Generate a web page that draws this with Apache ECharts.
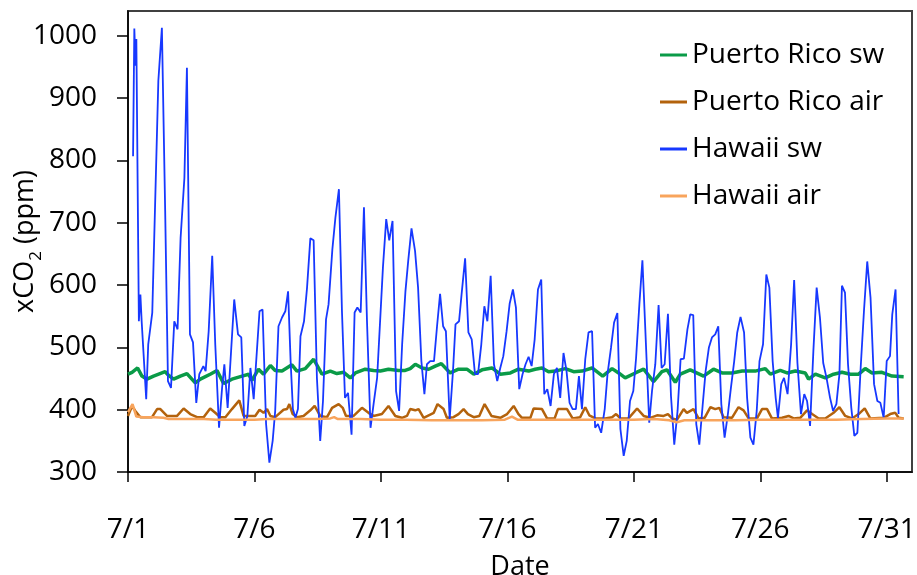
<!DOCTYPE html>
<html>
<head>
<meta charset="utf-8">
<script src="https://cdn.jsdelivr.net/npm/echarts@6/dist/echarts.min.js"></script>
<style>
html,body{margin:0;padding:0;background:#fff;}
#chart{width:917px;height:575px;}
</style>
</head>
<body>
<div id="chart"></div>
<script>
// x values are days since 7/1 00:00
const seriesNames = ['Puerto Rico sw', 'Puerto Rico air', 'Hawaii sw', 'Hawaii air'];
const xTickDays = [0, 5, 10, 15, 20, 25, 30];
const xTickLabels = ['7/1', '7/6', '7/11', '7/16', '7/21', '7/26', '7/31'];
const yTicks = [300, 400, 500, 600, 700, 800, 900, 1000];

const prSwDays = [0.00,0.16,0.38,0.55,0.75,1.01,1.47,1.61,1.80,2.07,2.33,2.66,2.86,3.25,3.52,3.78,4.11,4.51,4.77,4.90,5.16,5.36,5.63,5.82,6.09,6.48,6.68,7.01,7.34,7.67,8.00,8.26,8.53,8.79,8.99,9.38,9.71,9.98,10.30,10.70,10.96,11.16,11.36,11.63,11.89,12.15,12.39,12.74,13.07,13.40,13.67,14.00,14.39,14.72,15.12,15.44,15.84,16.10,16.37,16.63,16.90,17.29,17.62,17.95,18.35,18.77,19.14,19.40,19.66,20.06,20.39,20.78,21.11,21.31,21.64,21.84,22.23,22.76,23.15,23.49,23.88,24.28,24.80,25.20,25.40,25.79,26.06,26.39,26.78,26.91,27.18,27.57,27.90,28.23,28.56,28.89,29.15,29.42,29.81,30.21,30.67];
const prSwVals = [457,460,467,454,449,454,461,455,449,454,458,443,449,457,463,442,449,454,457,447,465,457,471,463,462,472,462,466,481,457,462,458,460,451,459,465,463,462,465,463,463,466,473,467,465,470,474,459,465,465,457,464,467,457,459,465,462,465,467,461,462,466,461,462,467,454,466,459,451,459,465,445,461,464,444,457,464,454,465,459,459,462,462,466,457,463,459,462,459,449,457,451,457,460,457,457,466,459,460,454,453];

const prAirDays = [0.00,0.16,0.29,0.49,0.95,1.15,1.28,1.54,1.94,2.20,2.46,2.73,2.99,3.25,3.45,3.65,3.85,4.11,4.40,4.57,5.03,5.20,5.36,5.50,5.63,5.82,6.15,6.29,6.38,6.51,6.68,6.94,7.21,7.38,7.60,7.87,8.07,8.33,8.49,8.62,8.92,9.25,9.51,9.71,10.04,10.30,10.37,10.57,10.83,11.03,11.16,11.36,11.49,11.69,12.09,12.24,12.48,12.61,12.87,13.07,13.27,13.44,13.67,13.89,14.10,14.37,14.72,14.99,15.25,15.44,15.58,15.91,16.04,16.37,16.57,16.87,17.00,17.36,17.58,17.88,18.08,18.24,18.48,18.87,19.14,19.30,19.47,19.79,20.13,20.39,20.65,20.92,21.18,21.35,21.51,21.71,21.97,22.10,22.36,22.56,22.80,23.03,23.22,23.38,23.55,23.88,24.14,24.34,24.54,24.87,25.07,25.27,25.46,25.86,26.12,26.32,26.58,26.85,27.05,27.31,27.57,27.90,28.13,28.36,28.63,28.89,29.13,29.35,29.88,30.14,30.34,30.47,30.67];
const prAirVals = [390,406,398,388,388,401,401,390,390,402,393,388,388,402,395,388,388,401,415,390,390,400,395,401,390,388,400,401,409,393,388,390,399,406,390,388,403,409,403,390,390,403,395,390,393,406,409,390,387,390,401,399,401,387,395,409,401,387,388,393,401,393,388,390,409,390,387,393,406,393,387,387,402,401,386,386,401,401,386,388,404,391,386,386,388,393,386,386,402,390,387,391,390,393,386,384,401,395,401,386,387,404,401,403,388,387,404,399,386,386,401,401,386,387,390,386,387,399,393,386,386,395,404,390,386,393,402,386,387,393,395,387,386];

const hiSwDays = [0.20,0.25,0.30,0.33,0.43,0.49,0.54,0.72,0.80,0.96,1.20,1.34,1.47,1.58,1.70,1.83,1.96,2.08,2.23,2.33,2.45,2.57,2.70,2.82,2.98,3.07,3.19,3.33,3.45,3.60,3.72,3.81,3.94,4.20,4.35,4.48,4.60,4.72,4.84,4.97,5.20,5.32,5.46,5.59,5.72,5.82,5.95,6.09,6.22,6.33,6.43,6.52,6.62,6.72,6.82,6.96,7.08,7.21,7.34,7.47,7.60,7.71,7.83,7.93,8.08,8.20,8.34,8.46,8.58,8.70,8.84,8.96,9.07,9.20,9.33,9.45,9.59,9.71,9.85,10.08,10.21,10.33,10.46,10.60,10.72,10.84,10.97,11.08,11.21,11.35,11.47,11.60,11.72,11.82,11.95,12.10,12.22,12.34,12.46,12.57,12.72,12.85,12.95,13.09,13.19,13.33,13.46,13.59,13.72,13.84,13.97,14.09,14.21,14.34,14.47,14.60,14.72,14.84,14.97,15.09,15.22,15.34,15.47,15.60,15.72,15.84,15.96,16.08,16.21,16.34,16.46,16.58,16.71,16.84,16.96,17.09,17.22,17.34,17.46,17.58,17.71,17.83,17.95,18.08,18.21,18.35,18.47,18.58,18.71,18.85,18.96,19.10,19.22,19.35,19.47,19.60,19.72,19.85,19.98,20.09,20.22,20.34,20.61,20.72,20.85,20.98,21.10,21.22,21.35,21.47,21.60,21.73,21.85,21.98,22.12,22.23,22.35,22.47,22.59,22.72,22.84,22.97,23.09,23.22,23.34,23.46,23.59,23.72,23.84,23.97,24.09,24.22,24.36,24.48,24.61,24.73,24.86,24.97,25.11,25.24,25.36,25.49,25.61,25.70,25.83,25.94,26.08,26.22,26.34,26.47,26.61,26.74,26.85,26.97,27.10,27.23,27.36,27.49,27.62,27.76,27.88,28.01,28.13,28.23,28.35,28.47,28.60,28.72,28.84,28.97,29.10,29.23,29.36,29.50,29.63,29.75,29.88,30.00,30.13,30.22,30.35,30.47];
const hiSwVals = [807,1012,952,995,542,585,542,417,505,556,928,1013,719,446,435,542,529,676,772,949,521,508,411,457,470,462,526,647,505,371,435,473,403,577,521,516,374,390,467,417,558,561,377,315,350,398,534,548,558,590,478,401,387,401,518,542,596,675,672,451,350,414,545,569,657,708,754,558,419,427,360,556,564,556,725,542,371,409,451,628,706,672,703,430,398,505,590,639,691,655,596,478,425,473,478,478,534,586,534,526,385,462,537,542,585,643,524,513,457,457,505,566,542,615,473,446,467,486,526,570,593,564,433,457,473,485,470,513,593,609,425,433,406,457,467,419,491,462,411,401,401,454,401,481,524,526,371,377,363,401,457,500,540,555,369,326,350,414,430,483,569,640,379,430,473,568,467,473,554,422,344,398,481,482,529,553,552,377,344,406,462,500,516,521,534,409,355,393,435,478,524,549,524,419,355,344,398,478,505,617,596,478,419,387,441,451,425,505,608,475,393,425,414,374,494,596,548,475,451,419,398,409,457,599,588,473,403,358,363,467,558,638,580,441,414,411,387,478,486,553,593,393];

const hiAirDays = [0.00,0.18,0.33,0.60,1.00,1.40,1.60,2.00,2.50,3.00,3.50,4.00,4.50,5.00,5.50,6.00,6.50,7.00,7.50,8.00,8.15,8.30,8.70,9.20,10.00,11.00,12.00,13.00,14.00,14.90,15.18,15.40,16.00,17.00,18.00,19.00,20.00,20.80,21.40,21.70,22.00,23.00,24.00,25.00,26.00,27.00,28.00,29.00,30.00,30.67];
const hiAirVals = [396,409,389,388,388,387,385,385,385,385,384,384,384,384,385,385,385,385,385,386,388,385,385,385,384,384,383,383,383,384,389,384,384,384,384,384,384,385,383,380,383,383,383,384,384,384,384,385,386,386];

const colors = ['#0A9B48', '#B3620C', '#1738FF', '#F8A45C'];
const widths = [3.5, 2.5, 1.8, 2.5];

function pairs(d, v) { return d.map((x, i) => [x, v[i]]); }
const dataSets = [pairs(prSwDays, prSwVals), pairs(prAirDays, prAirVals), pairs(hiSwDays, hiSwVals), pairs(hiAirDays, hiAirVals)];

const FONT = 'Open Sans';
const chart = echarts.init(document.getElementById('chart'), null, {renderer: 'canvas'});
chart.setOption({
  animation: false,
  backgroundColor: '#ffffff',
  textStyle: {fontFamily: FONT, color: '#000'},
  grid: {left: 128, right: 5, top: 11, bottom: 103, show: true, borderColor: '#404040', borderWidth: 2,
    containLabel: false, outerBoundsMode: 'none'},
  legend: {
    orient: 'vertical', left: 655, top: 35,
    icon: 'rect', itemWidth: 27, itemHeight: 3, itemGap: 17,
    textStyle: {fontFamily: FONT, fontSize: 28, color: '#000', lineHeight: 30},
    data: seriesNames
  },
  xAxis: {
    type: 'value', min: 0, max: 31, interval: 5,
    name: 'Date', nameLocation: 'middle', nameGap: 82, nameMoveOverlap: false,
    nameTextStyle: {fontFamily: FONT, fontSize: 27, color: '#000'},
    axisLine: {show: true, onZero: false, lineStyle: {color: '#000', width: 1.5}},
    axisTick: {show: true, inside: false, length: 10, lineStyle: {color: '#000', width: 1.5}, customValues: xTickDays},
    axisLabel: {fontFamily: FONT, fontSize: 28, color: '#000', margin: 44, customValues: xTickDays,
      formatter: v => { const i = xTickDays.indexOf(v); return i >= 0 ? xTickLabels[i] : ''; }},
    splitLine: {show: false}
  },
  yAxis: {
    type: 'value', min: 300, max: 1040, interval: 100,
    name: '{m|xCO}{s|2}{m| (ppm)}', nameLocation: 'middle', nameGap: 83, nameRotate: 90, nameMoveOverlap: false,
    nameTextStyle: {fontFamily: FONT, fontSize: 27, color: '#000',
      rich: {
        m: {fontFamily: FONT, fontSize: 27, color: '#000', lineHeight: 40, verticalAlign: 'middle'},
        s: {fontFamily: FONT, fontSize: 17, color: '#000', lineHeight: 12, verticalAlign: 'bottom'}
      }},
    axisLine: {show: true, onZero: false, lineStyle: {color: '#000', width: 1.5}},
    axisTick: {show: true, inside: false, length: 11, lineStyle: {color: '#000', width: 1.5}, customValues: yTicks},
    axisLabel: {fontFamily: FONT, fontSize: 28, color: '#000', margin: 31, customValues: yTicks,
      formatter: v => (yTicks.indexOf(v) >= 0 ? String(v) : '')},
    splitLine: {show: false}
  },
  series: seriesNames.map((n, i) => ({
    name: n, type: 'line', data: dataSets[i], symbol: 'none', showSymbol: false,
    lineStyle: {color: colors[i], width: widths[i]}, itemStyle: {color: colors[i]},
    z: 2 + i, clip: true
  }))
});
</script>
</body>
</html>
